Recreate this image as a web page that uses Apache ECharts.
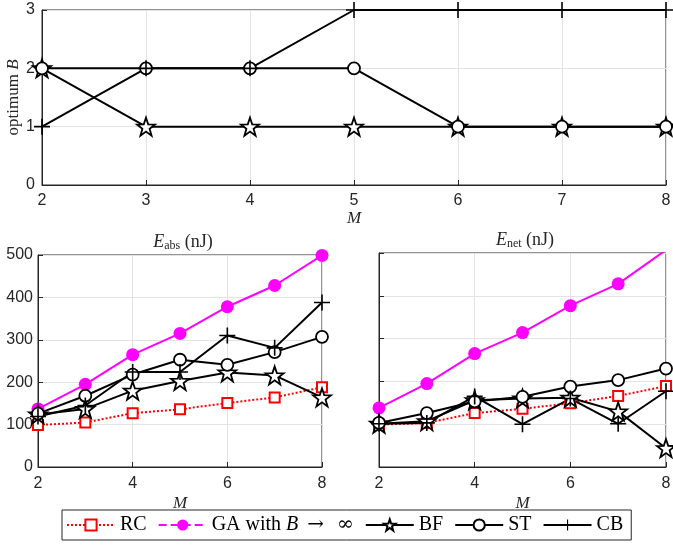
<!DOCTYPE html>
<html><head><meta charset="utf-8">
<script src="https://cdn.jsdelivr.net/npm/echarts@6/dist/echarts.min.js"></script>
<style>html,body{margin:0;padding:0;background:#fff}#c{width:673px;height:548px}</style>
</head><body><div id="c"></div>
<script>
const M = [2, 3, 4, 5, 6, 7, 8];
// top panel: optimum B
const topBF = [2, 1, 1, 1, 1, 1, 1];
const topST = [2, 2, 2, 2, 1, 1, 1];
const topCB = [1, 2, 2, 3, 3, 3, 3];
// E_abs (nJ)
const absRC = [99, 105, 127, 136, 151, 164, 188];
const absGA = [137, 195, 265, 315, 378, 428, 499];
const absBF = [124, 137, 180, 203, 223, 216, 164];
const absST = [126, 168, 218, 253, 241, 271, 307];
const absCB = [119, 145, 224, 224, 310, 281, 388];
// E_net (nJ)
const netRC = [99, 103, 126, 136, 149, 166, 189];
const netGA = [138, 195, 265, 314, 377, 428, 507];
const netBF = [101, 107, 156, 160, 162, 130, 44];
const netST = [103, 126, 153, 164, 188, 203, 230];
const netCB = [101, 103, 165, 100, 160, 101, 177];
const names = ['RC', 'GA', 'BF', 'ST', 'CB'];

const STAR = 'path://M0,-10 L2.35,-3.24 L9.51,-3.09 L3.80,1.24 L5.88,8.09 L0,4 L-5.88,8.09 L-3.80,1.24 L-9.51,-3.09 L-2.35,-3.24 Z';
const PLUS = 'path://M-1,-10 L1,-10 L1,-1 L10,-1 L10,1 L1,1 L1,10 L-1,10 L-1,1 L-10,1 L-10,-1 L-1,-1 Z';
const pair = a => M.map((m, i) => [m, a[i]]);

const styles = {
  RC: {symbol: 'rect', symbolSize: 10, itemStyle: {color: '#fff', borderColor: '#ff0000', borderWidth: 2}, lineStyle: {color: '#ff0000', width: 2, type: 'dotted'}},
  GA: {symbol: 'circle', symbolSize: 13, itemStyle: {color: '#ff00ff'}, lineStyle: {color: '#ff00ff', width: 2}},
  BF: {symbol: STAR, symbolSize: 18, itemStyle: {color: '#fff', borderColor: '#000', borderWidth: 1.8}, lineStyle: {color: '#000', width: 2}},
  ST: {symbol: 'circle', symbolSize: 12, itemStyle: {color: '#fff', borderColor: '#000', borderWidth: 1.8}, lineStyle: {color: '#000', width: 2}},
  CB: {symbol: PLUS, symbolSize: 16, itemStyle: {color: '#000'}, lineStyle: {color: '#000', width: 2}}
};
function ser(name, data, idx) {
  return Object.assign({type: 'line', name: name, data: pair(data), xAxisIndex: idx, yAxisIndex: idx, showAllSymbol: true, animation: false, z: 3}, JSON.parse(JSON.stringify(styles[name])));
}

const tickFont = {color: '#262626', fontSize: 16, fontFamily: 'Liberation Sans, Arial, sans-serif'};
const serif = 'Liberation Serif, DejaVu Serif, serif';
const splitL = {show: true, lineStyle: {color: '#e3e3e3', width: 1}};
const axLine = {show: true, lineStyle: {color: '#262626', width: 1}};
const tick = {show: true, inside: true, length: 5, lineStyle: {color: '#262626'}};
const mName = {name: 'M', nameLocation: 'middle', nameTextStyle: {fontFamily: serif, fontStyle: 'italic', fontSize: 17, color: '#262626'}};

const grids = [
  {left: 42, top: 10, right: 7, height: 175, show: true, borderColor: '#262626', borderWidth: 1, containLabel: false, outerBoundsMode: 'none'},
  {left: 38, top: 255, width: 284, height: 212, show: true, borderColor: '#262626', borderWidth: 1, containLabel: false, outerBoundsMode: 'none'},
  {left: 379, top: 253, width: 287, height: 214, show: true, borderColor: '#262626', borderWidth: 1, containLabel: false, outerBoundsMode: 'none'}
];
const xAxes = [
  Object.assign({gridIndex: 0, type: 'value', min: 2, max: 8, interval: 1, axisLabel: Object.assign({margin: 8}, tickFont), splitLine: splitL, axisLine: axLine, axisTick: tick, nameGap: 24}, mName),
  Object.assign({gridIndex: 1, type: 'value', min: 2, max: 8, interval: 2, axisLabel: Object.assign({margin: 9}, tickFont), splitLine: splitL, axisLine: axLine, axisTick: tick, nameGap: 28}, mName),
  Object.assign({gridIndex: 2, type: 'value', min: 2, max: 8, interval: 2, axisLabel: Object.assign({margin: 9}, tickFont), splitLine: splitL, axisLine: axLine, axisTick: tick, nameGap: 28}, mName)
];
const yAxes = [
  {gridIndex: 0, type: 'value', min: 0, max: 3, interval: 1, axisLabel: Object.assign({margin: 7}, tickFont), splitLine: splitL, axisLine: axLine, axisTick: tick,
   name: '{n|optimum }{i|B}', nameLocation: 'middle', nameGap: 20, nameMoveOverlap: false,
   nameTextStyle: {color: '#262626', rich: {n: {fontFamily: serif, fontSize: 17, color: '#262626'}, i: {fontFamily: serif, fontSize: 17, fontStyle: 'italic', color: '#262626'}}}},
  {gridIndex: 1, type: 'value', min: 0, max: 500, interval: 100, axisLabel: Object.assign({margin: 5}, tickFont), splitLine: splitL, axisLine: axLine, axisTick: tick},
  {gridIndex: 2, type: 'value', min: 0, max: 500, interval: 100, axisLabel: {show: false}, splitLine: splitL, axisLine: axLine, axisTick: tick}
];

const titleRich = {
  e: {fontFamily: serif, fontSize: 18, fontStyle: 'italic', fontWeight: 'normal', color: '#262626'},
  s: {fontFamily: serif, fontSize: 12, fontWeight: 'normal', color: '#262626', padding: [7, 0, 0, 0]},
  n: {fontFamily: serif, fontSize: 18, fontWeight: 'normal', color: '#262626'}
};

const series = [
  ser('BF', topBF, 0), ser('ST', topST, 0), ser('CB', topCB, 0),
  ser('RC', absRC, 1), ser('GA', absGA, 1), ser('BF', absBF, 1), ser('ST', absST, 1), ser('CB', absCB, 1),
  ser('RC', netRC, 2), ser('GA', netGA, 2), ser('BF', netBF, 2), ser('ST', netST, 2), ser('CB', netCB, 2)
];

const chart = echarts.init(document.getElementById('c'), null, {renderer: 'canvas'});
chart.setOption({
  animation: false,
  backgroundColor: '#fff',
  grid: grids, xAxis: xAxes, yAxis: yAxes,
  title: [
    {text: '{e|E}{s|abs}{n| (nJ)}', left: 178, top: 228, textAlign: 'center', textStyle: {fontWeight: 'normal', rich: titleRich}},
    {text: '{e|E}{s|net}{n| (nJ)}', left: 520, top: 226, textAlign: 'center', textStyle: {fontWeight: 'normal', rich: titleRich}}
  ],
  legend: {
    data: [
      {name: 'RC'}, {name: 'GA', lineStyle: {type: 'dashed'}}, {name: 'BF'}, {name: 'ST'}, {name: 'CB'}
    ],
    left: 62, top: 510, width: 574, height: 30,
    padding: [5, 8, 5, 4], itemGap: 11, itemWidth: 48, itemHeight: 14,
    borderColor: '#262626', borderWidth: 1,
    formatter: n => n === 'GA' ? '{t|GA with }{i|B}{a|→}{a|∞}' : '{t|' + n + '}',
    textStyle: {color: '#000', rich: {
      t: {fontFamily: serif, fontSize: 20, color: '#000'},
      i: {fontFamily: serif, fontSize: 20, fontStyle: 'italic', color: '#000'},
      a: {fontFamily: 'DejaVu Serif, serif', fontSize: 20, color: '#000', padding: [0, 4, 0, 9]}}}
  },
  series: series
});
</script></body></html>
